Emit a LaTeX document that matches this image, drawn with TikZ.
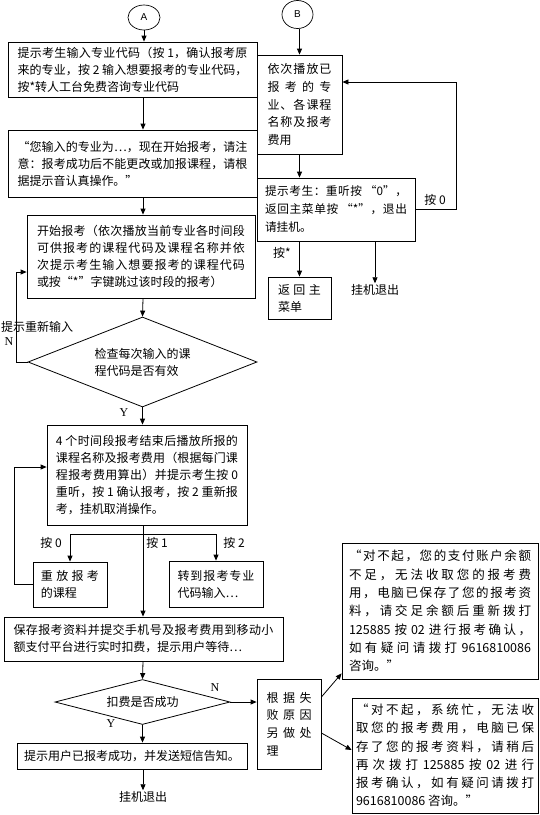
\documentclass[tikz,border=0pt]{standalone}
\usepackage{fontspec}
\setmainfont{Noto Sans CJK SC}
\newfontfamily\latinserif{Liberation Serif}
\newfontfamily\latinsans{Liberation Sans}
\usetikzlibrary{arrows.meta,shapes.geometric,calc}
\XeTeXinterchartokenstate=1
\newXeTeXintercharclass\CJKcls
\newcount\cjkc
\def\setcjkrange#1#2{\cjkc=#1\relax\loop\XeTeXcharclass\cjkc=\CJKcls\relax\ifnum\cjkc<#2\advance\cjkc by 1\repeat}
\setcjkrange{"3000}{"303F}
\setcjkrange{"4E00}{"9FFF}
\setcjkrange{"FF00}{"FFEF}
\setcjkrange{"201C}{"201D}
\setcjkrange{"2026}{"2026}
\XeTeXinterchartoks\CJKcls\CJKcls={\nobreak\hskip0pt plus 3pt minus 1pt\relax}
\tolerance=10000
\hbadness=10000
\hfuzz=20pt
\setlength\parindent{0pt}
\newcommand\fsA{\fontsize{12}{17}\selectfont}
\newcommand\fsB{\fontsize{12}{17.6}\selectfont}
\newcommand\fsM{\fontsize{12.5}{18.3}\selectfont}
\tikzset{
  bx/.style n args={3}{draw, line width=0.8pt, rectangle, align=justify, font=\fsA,
    text width=#1, inner xsep=#2, inner ysep=1pt, minimum height=#3},
  dia/.style n args={2}{draw, line width=0.8pt, diamond, shape aspect=2.5, inner sep=0pt,
    minimum width=#1, minimum height=#2, align=left, font=\fsA},
  circ/.style={draw, line width=0.7pt, ellipse, inner sep=0pt, font=\latinsans\fontsize{10}{10}\selectfont},
  lbl/.style={inner sep=1pt, font=\fsA},
  yn/.style={inner sep=1pt, font=\latinserif\fontsize{12}{12}\selectfont},
  arr/.style={-{Triangle[length=6pt,width=5pt]}, line width=0.8pt},
  ln/.style={line width=0.8pt}
}
\begin{document}
\begin{tikzpicture}[x=1pt,y=-1pt]
\useasboundingbox (0,0) rectangle (540,815);
\coordinate (sp) at (143,0);
% left column
\node[circ, minimum width=32pt, minimum height=25pt] (A) at (144,17.5) {A};
\node[bx={230pt}{9.5pt}{55pt}] (b1) at (132.5,69.5) {提示考生输入专业代码（按 1，确认报考原\linebreak 来的专业，按 2 输入想要报考的专业代码，\linebreak 按*转人工台免费咨询专业代码};
\node[bx={230pt}{9.5pt}{67pt}] (b2) at (132.5,163.5) {“您输入的专业为…，现在开始报考，请注\linebreak 意：报考成功后不能更改或加报课程，请根\linebreak 据提示音认真操作。”};
\node[bx={208pt}{10pt}{83pt}] (b3) at (141,256.5) {开始报考（依次播放当前专业各时间段\linebreak 可供报考的课程代码及课程名称并依\linebreak 次提示考生输入想要报考的课程代码\linebreak 或按“*”字键跳过该时段的报考）};
\node[dia={229pt}{90pt}] (d1) at (142.5,362) {检查每次输入的课\\程代码是否有效};
\node[bx={182pt}{9pt}{100pt}] (b4) at (147,475) {4 个时间段报考结束后播放所报的\linebreak 课程名称及报考费用（根据每门课\linebreak 程报考费用算出）并提示考生按 0\linebreak 重听，按 1 确认报考，按 2 重新报\linebreak 考，挂机取消操作。};
\node[bx={58pt}{8pt}{45pt}] (r0) at (70,584.5) {重放报考\linebreak 的课程};
\node[bx={77pt}{8.5pt}{46pt}] (r2) at (216,584) {转到报考专业\linebreak 代码输入…};
\node[bx={260pt}{9.5pt}{44pt}] (b5) at (143.5,639) {保存报考资料并提交手机号及报考费用到移动小\linebreak 额支付平台进行实时扣费，提示用户等待…};
\node[dia={175pt}{45pt}] (d2) at (142.5,702) {扣费是否成功};
\node[draw, line width=0.8pt, font=\fsA, minimum width=230pt, minimum height=26pt, inner sep=1pt] (b6) at (132,756) {提示用户已报考成功，并发送短信告知。};
\node[lbl] (exit1) at (143,797) {挂机退出};
\node[bx={45pt}{9.5pt}{90pt}, font=\fsB] (f) at (289,724) {根据失\linebreak 败原因\linebreak 另做处\linebreak 理};
\node[bx={182pt}{7pt}{136pt}, font=\fsM] (m1) at (440,611) {“对不起，您的支付账户余额\linebreak 不足，无法收取您的报考费\linebreak 用，电脑已保存了您的报考资\linebreak 料，请交足余额后重新拨打\linebreak 125885 按 02 进行报考确认，\linebreak 如有疑问请拨打 9616810086\linebreak 咨询。”};
\node[bx={178pt}{4pt}{115pt}, font=\fsM] (m2) at (445,755.5) {“对不起，系统忙，无法收\linebreak 取您的报考费用，电脑已保\linebreak 存了您的报考资料，请稍后\linebreak 再次拨打 125885 按 02 进行\linebreak 报考确认，如有疑问请拨打\linebreak 9616810086 咨询。”};
% right column
\node[circ, minimum width=31pt, minimum height=28pt] (B) at (297.5,14.5) {B};
\node[bx={64pt}{10.5pt}{99pt}, font=\fsB] (B1) at (299.5,104.5) {依次播放已\linebreak 报考的专\linebreak 业、各课程\linebreak 名称及报考\linebreak 费用};
\node[bx={142pt}{8pt}{63pt}, font=\fontsize{11.7}{18}\selectfont] (B2) at (336,209.5) {提示考生：重听按~“0”，\linebreak 返回主菜单按~“*”，退出\linebreak 请挂机。};
\node[bx={43pt}{10pt}{42pt}] (rm) at (299.5,298) {返回主\linebreak 菜单};
\node[lbl] (exit2) at (375,290) {挂机退出};
% labels
\node[lbl, anchor=west] (t1) at (0,327) {提示重新输入};
\node[yn] (n1) at (9,342) {N};
\node[yn] (y1) at (124,413) {Y};
\node[lbl] (p0) at (51,543) {按 0};
\node[lbl] (p1) at (157,543) {按 1};
\node[lbl] (p2) at (234,543) {按 2};
\node[yn] (n2) at (215,688) {N};
\node[yn] (y2) at (111,724) {Y};
\node[lbl] (q0) at (435,200) {按 0};
\node[lbl] (qs) at (282,253) {按*};
% connectors left
\draw[arr] (A.south) -- (A.south |- b1.north);
\draw[arr] (b1.south -| sp) -- (b2.north -| sp);
\draw[arr] (b2.south -| sp) -- (b3.north -| sp);
\draw[arr] (b3.south -| sp) -- (d1.north);
\draw[arr] (d1.south) -- (d1.south |- b4.north);
\draw[arr] (d1.west) -- ++(-11,0) |- ([yshift=-15.5pt]b3.west);
\coordinate (br) at (143,534);
\draw[ln] (b4.south -| sp) -- (br);
\draw[ln] (r0.north |- br) -- (r2.north |- br);
\draw[arr] (r0.north |- br) -- (r0.north);
\draw[arr] (r2.north |- br) -- (r2.north);
\draw[arr] (br) -- (b5.north -| sp);
\draw[arr] (r0.west) -- ++(-18,0) |- ([yshift=8pt]b4.west);
\draw[arr] (b5.south -| sp) -- (d2.north);
\draw[arr] (d2.south) -- (d2.south |- b6.north);
\draw[arr] (b6.south -| sp) -- (exit1.north);
\draw[arr] (d2.east) -- (d2.east -| f.west);
\draw[arr] ([yshift=27pt]f.east) -- ([yshift=6pt]m1.south west);
\draw[arr] ([yshift=-9pt]f.east) -- ([yshift=5.5pt]m2.west);
% connectors right
\draw[arr] (B.south -| B1.north) -- (B1.north);
\draw[arr] (B1.south) -- (B1.south |- B2.north);
\draw[arr] (B2.east) -- ++(41,0) |- ([yshift=22.5pt]B1.east);
\draw[arr] (B2.south -| rm.north) -- (rm.north);
\draw[arr] (B2.south -| exit2.north) -- (exit2.north);
\end{tikzpicture}
\end{document}
